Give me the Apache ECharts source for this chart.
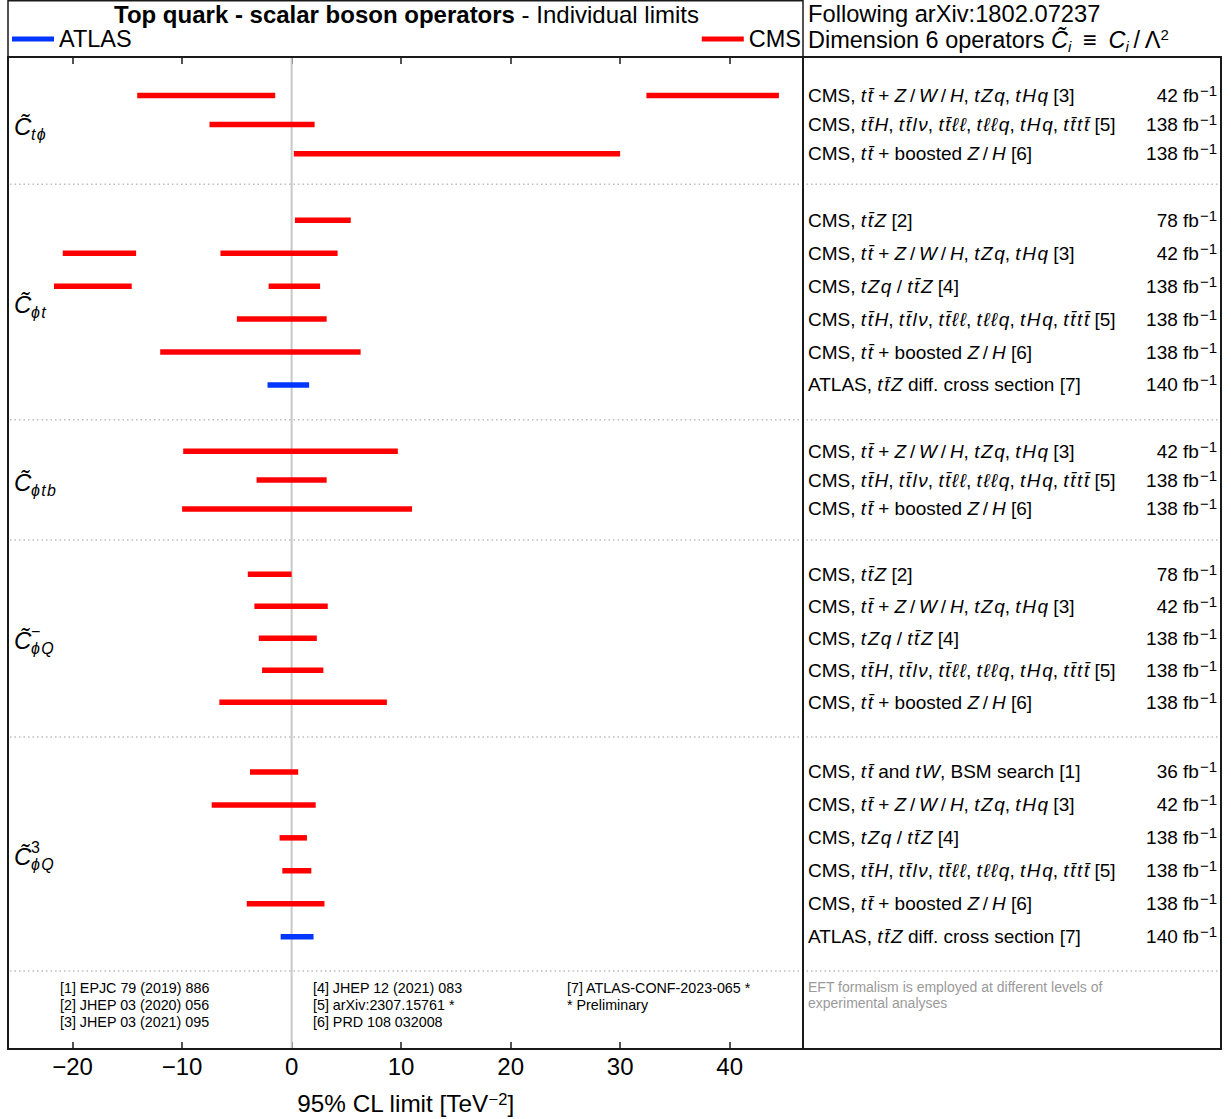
<!DOCTYPE html>
<html><head><meta charset="utf-8">
<script src="https://cdn.jsdelivr.net/npm/echarts@6/dist/echarts.min.js"></script>
<style>html,body{margin:0;padding:0;background:#fff}#c{width:1231px;height:1119px}</style>
</head><body><div id="c"></div>
<script>
// ---------- text helpers ----------
const T = 't\u0304';
const HS = '\u200A';
const SL = '\u2009/\u2009';
function clusters(s) {
  const out = [];
  Array.from(s).forEach(ch => {
    if (/[\u0300-\u036f]/.test(ch) && out.length) out[out.length - 1] += ch; else out.push(ch);
  });
  return out;
}
const M = s => '{i|' + clusters(s).join(HS) + '}';

// ---------- DATA ----------
const xTicks = [-20, -10, 0, 10, 20, 30, 40];
const zeroLine = [0];

const lab1 = `CMS, ${M('t' + T)} and ${M('tW')}, BSM search [1]`;
const lab2 = `CMS, ${M('t' + T + 'Z')} [2]`;
const lab3 = `CMS, ${M('t' + T)} + ${M('Z')}${SL}${M('W')}${SL}${M('H')}, ${M('tZq')}, ${M('tHq')} [3]`;
const lab4 = `CMS, ${M('tZq')} / ${M('t' + T + 'Z')} [4]`;
const lab5 = `CMS, ${M('t' + T + 'H')}, ${M('t' + T + 'lν')}, ${M('t' + T + 'ℓℓ')}, ${M('tℓℓq')}, ${M('tHq')}, ${M('t' + T + 't' + T)} [5]`;
const lab6 = `CMS, ${M('t' + T)} + boosted ${M('Z')}${SL}${M('H')} [6]`;
const lab7 = `ATLAS, ${M('t' + T + 'Z')} diff. cross section [7]`;

// group 1: C_tphi
const g1Labels = [lab3, lab5, lab6];
const g1Lumi = ['42', '138', '138'];
const g1Exp = ['CMS', 'CMS', 'CMS'];
const g1Lo = [[-14.1, 32.4], [-7.5], [0.2]];
const g1Hi = [[-1.5, 44.5], [2.1], [30.0]];

// group 2: C_phit
const g2Labels = [lab2, lab3, lab4, lab5, lab6, lab7];
const g2Lumi = ['78', '42', '138', '138', '138', '140'];
const g2Exp = ['CMS', 'CMS', 'CMS', 'CMS', 'CMS', 'ATLAS'];
const g2Lo = [[0.3], [-20.9, -6.5], [-21.7, -2.1], [-5.0], [-12.0], [-2.2]];
const g2Hi = [[5.4], [-14.2, 4.2], [-14.6, 2.6], [3.2], [6.3], [1.6]];

// group 3: C_phitb
const g3Labels = [lab3, lab5, lab6];
const g3Lumi = ['42', '138', '138'];
const g3Exp = ['CMS', 'CMS', 'CMS'];
const g3Lo = [[-9.9], [-3.2], [-10.0]];
const g3Hi = [[9.7], [3.2], [11.0]];

// group 4: C^-_phiQ
const g4Labels = [lab2, lab3, lab4, lab5, lab6];
const g4Lumi = ['78', '42', '138', '138', '138'];
const g4Exp = ['CMS', 'CMS', 'CMS', 'CMS', 'CMS'];
const g4Lo = [[-4.0], [-3.4], [-3.0], [-2.7], [-6.6]];
const g4Hi = [[0.0], [3.3], [2.3], [2.9], [8.7]];

// group 5: C^3_phiQ
const g5Labels = [lab1, lab3, lab4, lab5, lab6, lab7];
const g5Lumi = ['36', '42', '138', '138', '138', '140'];
const g5Exp = ['CMS', 'CMS', 'CMS', 'CMS', 'CMS', 'ATLAS'];
const g5Lo = [[-3.8], [-7.3], [-1.1], [-0.85], [-4.1], [-1.0]];
const g5Hi = [[0.6], [2.2], [1.4], [1.8], [3.0], [2.0]];

const groupSub = ['tϕ', 'ϕt', 'ϕtb', 'ϕQ', 'ϕQ'];
const groupSup = ['', '', '', '−', '3'];

const refCol1 = ['[1] EPJC 79 (2019) 886', '[2] JHEP 03 (2020) 056', '[3] JHEP 03 (2021) 095'];
const refCol2 = ['[4] JHEP 12 (2021) 083', '[5] arXiv:2307.15761 *', '[6] PRD 108 032008'];
const refCol3 = ['[7] ATLAS-CONF-2023-065 *', '* Preliminary'];
const noteText = ['EFT formalism is employed at different levels of', 'experimental analyses'];

// ---------- LAYOUT ----------
const FF = 'Liberation Sans, Arial, Helvetica, sans-serif';
const W = 1231, H = 1119;
const PL = 8, PR = 803, PT = 57, PB = 1049, RR = 1221;
const X_MIN = -25.9, X_MAX = 46.7;
const COL = {CMS: '#ff0000', ATLAS: '#0036ff'};
const FS = 19;
const groups = [
  {labels: g1Labels, lumi: g1Lumi, exp: g1Exp, lo: g1Lo, hi: g1Hi, top: 80.8, band: 29.2},
  {labels: g2Labels, lumi: g2Lumi, exp: g2Exp, lo: g2Lo, hi: g2Hi, top: 203.8, band: 32.94},
  {labels: g3Labels, lumi: g3Lumi, exp: g3Exp, lo: g3Lo, hi: g3Hi, top: 436.7, band: 28.9},
  {labels: g4Labels, lumi: g4Lumi, exp: g4Exp, lo: g4Lo, hi: g4Hi, top: 558.3, band: 32},
  {labels: g5Labels, lumi: g5Lumi, exp: g5Exp, lo: g5Lo, hi: g5Hi, top: 755.5, band: 32.94}
];
const seps = [184.3, 419.7, 540, 737, 971];

const chart = echarts.init(document.getElementById('c'), null, {renderer: 'svg'});

const fmtTick = v => v < 0 ? '\u2212' + Math.abs(v) : String(v);

const grid = [{left: PL, right: W - PR, top: PT, bottom: H - PB, show: false, containLabel: false, outerBoundsMode: 'none'}];
const xAxis = [
  {gridIndex: 0, type: 'value', position: 'bottom', min: X_MIN, max: X_MAX,
   axisLine: {show: true, onZero: false, lineStyle: {color: '#1a1a1a', width: 2}},
   axisTick: {show: true, inside: true, length: 7, customValues: xTicks, lineStyle: {color: '#1a1a1a', width: 1.5}},
   axisLabel: {show: true, customValues: xTicks, formatter: fmtTick, fontSize: 24, color: '#000', fontFamily: FF, margin: 5},
   splitLine: {show: false},
   name: '95% CL limit [TeV{s|\u22122}]', nameLocation: 'middle', nameGap: 41,
   nameTextStyle: {fontSize: 24.3, color: '#000', fontFamily: FF, lineHeight: 26,
     rich: {s: {fontSize: 16.5, fontFamily: FF, color: '#000', verticalAlign: 'top', lineHeight: 15}}}},
  {gridIndex: 0, type: 'value', position: 'top', min: X_MIN, max: X_MAX,
   axisLine: {show: true, onZero: false, lineStyle: {color: '#1a1a1a', width: 2}},
   axisTick: {show: true, inside: true, length: 7, customValues: xTicks, lineStyle: {color: '#1a1a1a', width: 1.5}},
   axisLabel: {show: false}, splitLine: {show: false}}
];
const yAxis = [{gridIndex: 0, type: 'value', min: 0, max: 1, show: false}];
const series = [{
  type: 'line', xAxisIndex: 0, yAxisIndex: 0, silent: true, symbol: 'none', z: 1,
  data: [[zeroLine[0], 0], [zeroLine[0], 1]],
  lineStyle: {color: '#c8c8c8', width: 2}
}];

function renderSeg(params, api) {
  const y = api.value(2);
  const p0 = api.coord([api.value(0), y]);
  const p1 = api.coord([api.value(1), y]);
  return {type: 'rect', shape: {x: p0[0], y: p0[1] - 2.75, width: p1[0] - p0[0], height: 5.5},
          style: {fill: api.visual('color')}};
}

groups.forEach((g, k) => {
  const n = g.labels.length;
  grid.push({left: PL, right: W - PR, top: g.top, height: g.band * n, show: false, containLabel: false, outerBoundsMode: 'none'});
  xAxis.push({gridIndex: k + 1, type: 'value', min: X_MIN, max: X_MAX, show: false});
  yAxis.push({gridIndex: k + 1, type: 'category', position: 'right', inverse: true, data: g.labels,
    axisLine: {show: false}, axisTick: {show: false}, splitLine: {show: false},
    axisLabel: {interval: 0, margin: 5, align: 'left', fontSize: FS, color: '#000', fontFamily: FF,
      rich: {i: {fontStyle: 'italic', fontSize: FS, color: '#000', fontFamily: FF}}}});
  yAxis.push({gridIndex: k + 1, type: 'category', position: 'right', inverse: true,
    data: g.lumi.map(v => v + ' fb{s|\u22121}'),
    axisLine: {show: false}, axisTick: {show: false}, splitLine: {show: false},
    axisLabel: {interval: 0, margin: RR - 4 - PR, align: 'right', fontSize: FS, color: '#000', fontFamily: FF, lineHeight: 25,
      rich: {s: {fontSize: 15, color: '#000', fontFamily: FF, verticalAlign: 'top', lineHeight: 14, padding: [0, 0, 0, 1]}}}});
  ['CMS', 'ATLAS'].forEach(e => {
    const data = [];
    g.lo.forEach((los, r) => {
      if (g.exp[r] !== e) return;
      los.forEach((lo, j) => data.push([lo, g.hi[r][j], r]));
    });
    series.push({type: 'custom', name: e, xAxisIndex: k + 2, yAxisIndex: 1 + 2 * k, z: 3,
      itemStyle: {color: COL[e]}, renderItem: renderSeg, encode: {x: [0, 1], y: 2}, data: data, silent: true});
  });
});

// graphics: frames, separators, labels, texts
const graphic = [];
const stroke = '#1a1a1a';
graphic.push({type: 'rect', shape: {x: PL, y: 0.75, width: PR - PL, height: PT - 0.75}, style: {fill: 'none', stroke: stroke, lineWidth: 1.5}, z: 10, silent: true});
graphic.push({type: 'rect', shape: {x: PL, y: PT, width: PR - PL, height: PB - PT}, style: {fill: 'none', stroke: stroke, lineWidth: 2}, z: 10, silent: true});
graphic.push({type: 'rect', shape: {x: PR, y: PT, width: RR - PR, height: PB - PT}, style: {fill: 'none', stroke: stroke, lineWidth: 2}, z: 10, silent: true});
seps.forEach(y => graphic.push({type: 'line', shape: {x1: PL + 2, y1: y, x2: RR - 2, y2: y},
  style: {stroke: '#bdbdbd', lineWidth: 1.5, lineDash: [1.5, 3]}, z: 5, silent: true}));

groups.forEach((g, k) => {
  const cy = g.top + g.band * g.labels.length / 2;
  graphic.push({type: 'text', x: 14, y: cy + 2, silent: true,
    style: {text: 'C\u0303', fontSize: 24, fontStyle: 'italic', fontFamily: FF, fill: '#000', verticalAlign: 'middle'}});
  graphic.push({type: 'text', x: 31, y: cy + 10, silent: true,
    style: {text: clusters(groupSub[k]).join(HS), fontSize: 16, fontStyle: 'italic', fontFamily: FF, fill: '#000', verticalAlign: 'middle'}});
  if (groupSup[k]) graphic.push({type: 'text', x: 31, y: cy - 7, silent: true,
    style: {text: groupSup[k], fontSize: 16, fontFamily: FF, fill: '#000', verticalAlign: 'middle'}});
});

graphic.push({type: 'text', x: (PL + PR) / 2 + 1, y: 14, silent: true,
  style: {text: '{b|Top quark - scalar boson operators}{r| - Individual limits}', align: 'center', verticalAlign: 'middle',
    rich: {b: {fontSize: 24, fontWeight: 'bold', fontFamily: FF, fill: '#000'}, r: {fontSize: 24, fontFamily: FF, fill: '#000'}}}});
graphic.push({type: 'text', x: PR + 5, y: 14, silent: true,
  style: {text: 'Following arXiv:1802.07237', fontSize: 23.7, fontFamily: FF, fill: '#000', verticalAlign: 'middle'}});
graphic.push({type: 'text', x: PR + 5, y: 40, silent: true,
  style: {text: 'Dimension 6 operators {i|C\u0303}{sb|i}\u2002\u2261\u2002{i|C}{sb|i}{n|\u2009/\u2009\u039B}{sp|2}', fontSize: 23.5, fontFamily: FF, fill: '#000',
    verticalAlign: 'middle', lineHeight: 27,
    rich: {i: {fontSize: 23.5, fontStyle: 'italic', fontFamily: FF, fill: '#000', lineHeight: 27},
           n: {fontSize: 23.5, fontFamily: FF, fill: '#000', lineHeight: 27},
           sb: {fontSize: 15, fontStyle: 'italic', fontFamily: FF, fill: '#000', verticalAlign: 'bottom', lineHeight: 16},
           sp: {fontSize: 15, fontFamily: FF, fill: '#000', verticalAlign: 'top', lineHeight: 15}}}});

[[refCol1, 60], [refCol2, 313], [refCol3, 567]].forEach(([arr, x]) => {
  graphic.push({type: 'text', x: x, y: 979, silent: true,
    style: {text: arr.join('\n'), fontSize: 14.3, lineHeight: 17, fontFamily: FF, fill: '#000', verticalAlign: 'top'}});
});
graphic.push({type: 'text', x: PR + 5, y: 979, silent: true,
  style: {text: noteText.join('\n'), fontSize: 14, lineHeight: 16, fontFamily: FF, fill: '#9a9a9a', verticalAlign: 'top'}});

const legendText = {fontSize: 23.5, color: '#000', fontFamily: FF};
chart.setOption({
  animation: false,
  backgroundColor: '#fff',
  grid: grid, xAxis: xAxis, yAxis: yAxis, series: series, graphic: graphic,
  legend: [
    {data: ['ATLAS'], left: 12, top: 27, icon: 'rect', itemWidth: 42, itemHeight: 5, padding: 0, selectedMode: false, textStyle: legendText},
    {data: ['CMS'], right: W - 801, top: 27, icon: 'rect', itemWidth: 42, itemHeight: 5, padding: 0, selectedMode: false, textStyle: legendText}
  ]
});
</script></body></html>
